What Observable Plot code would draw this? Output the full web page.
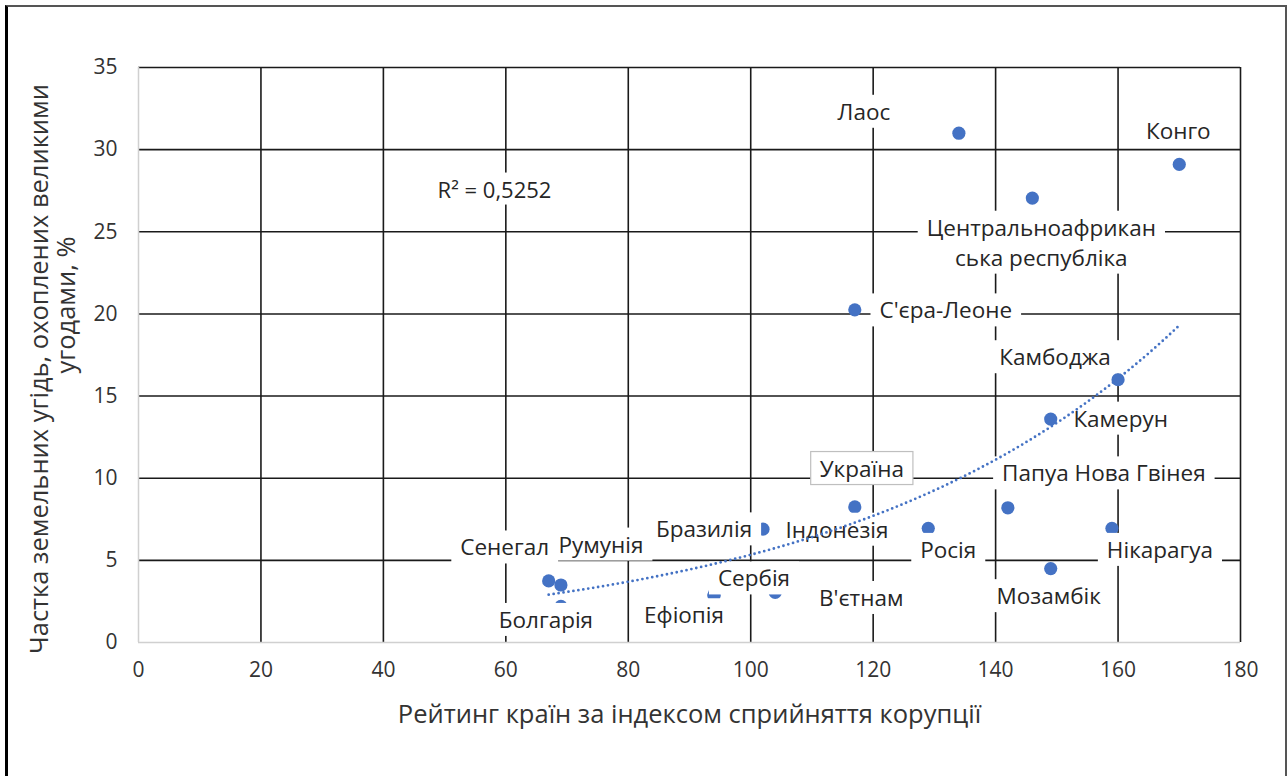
<!DOCTYPE html>
<html>
<head>
<meta charset="utf-8">
<script src="https://cdn.jsdelivr.net/npm/d3@7"></script>
<script src="https://cdn.jsdelivr.net/npm/@observablehq/plot@0.6"></script>
<style>
  html, body { margin: 0; padding: 0; background: #fff; }
  #wrap { position: relative; width: 1287px; height: 776px; overflow: hidden; }
  #frame { position: absolute; left: 5px; top: 5px; width: 1282px; height: 771px;
           border-left: 3px solid #000; border-top: 2px solid #555; border-right: 2px solid #555;
           box-sizing: border-box; pointer-events: none; }
</style>
</head>
<body>
<div id="wrap"><div id="chart"></div><div id="frame"></div></div>
<script>
// ---- data ----
const countries = ["Лаос", "Конго", "Центральноафрикан\nська республіка", "С'єра-Леоне", "Камбоджа", "Камерун",
  "Україна", "Папуа Нова Гвінея", "Індонезія", "Бразилія", "Росія", "Нікарагуа", "Мозамбік",
  "Сенегал", "Румунія", "Болгарія", "Ефіопія", "Сербія", "В'єтнам"];
const rank  = [134, 170, 146, 117, 160, 149, 117, 142, 102, 94, 129, 159, 149, 67, 69, 69, 94, 94, 104];
const share = [31.0, 29.1, 27.05, 20.25, 16.0, 13.6, 8.25, 8.2, 6.9, 6.8, 6.95, 6.95, 4.5, 3.75, 3.5, 2.2, 2.85, 2.9, 3.05];
const xTicks = [0, 20, 40, 60, 80, 100, 120, 140, 160, 180];
const yTicks = [0, 5, 10, 15, 20, 25, 30, 35];
const r2Label = "R² = 0,5252";
const xTitle = "Рейтинг країн за індексом сприйняття корупції";
const yTitleLines = ["Частка земельних угідь, охоплених великими", "угодами, %"];

// label placement (pixel offsets from each point)
const labelDx = [-95, -1, 9, 91, -63, 70, 7, 96, 74, -10, 20, 48, -2, -44, 40, -15, -30, 40, 86];
const labelDy = [-20, -32, 46, 2, -21, 1, -37, -33, 2, 0, 23, 23, 29, -32, -39, 15, 21, -15, 7];

const points = countries.map((c, i) => ({ name: c, x: rank[i], y: share[i], i }));

// exponential trendline (least squares on ln y), as Excel does
const lx = points.map(p => p.x), ly = points.map(p => Math.log(p.y));
const mx = d3.mean(lx), my = d3.mean(ly);
const b = d3.sum(lx.map((x, k) => (x - mx) * (ly[k] - my))) / d3.sum(lx.map(x => (x - mx) ** 2));
const a = Math.exp(my - b * mx);
const [x0, x1] = d3.extent(lx);
const trend = d3.range(0, 101).map(k => { const x = x0 + (x1 - x0) * k / 100; return { x, y: a * Math.exp(b * x) }; });

const blue = "#4472C4";
const txt = "#262626";
const axisTxt = "#333";
const FONT = "'Open Sans', 'Noto Sans', sans-serif";

const labelMarks = points.map(p => Plot.text([p], {
  x: "x", y: "y", text: "name", dx: labelDx[p.i], dy: labelDy[p.i] - 3,
  fontSize: 22.5, fill: txt, lineHeight: 1.33
}));

const chart = Plot.plot({
  width: 1287, height: 776,
  marginLeft: 138, marginRight: 47, marginTop: 67, marginBottom: 134,
  x: { domain: [0, 180], axis: null },
  y: { domain: [0, 35], axis: null },
  style: { fontFamily: FONT, background: "transparent" },
  marks: [
    Plot.ruleX(xTicks.filter(d => d > 0), { stroke: "#1a1a1a", strokeWidth: 1.6 }),
    Plot.ruleY(yTicks.filter(d => d > 0), { stroke: "#1a1a1a", strokeWidth: 1.6 }),
    Plot.ruleX([0], { stroke: "#d0d0d0", strokeWidth: 1.5 }),
    Plot.ruleY([0], { stroke: "#d0d0d0", strokeWidth: 1.5 }),
    Plot.text(xTicks, { x: d => d, frameAnchor: "bottom", lineAnchor: "middle", textAnchor: "middle", dy: 28, fontSize: 21, fill: axisTxt }),
    Plot.text(yTicks, { y: d => d, frameAnchor: "left", lineAnchor: "middle", textAnchor: "end", dx: -21, fontSize: 21, fill: axisTxt }),
    Plot.text([xTitle], { frameAnchor: "bottom", lineAnchor: "middle", textAnchor: "middle", dy: 72, fontSize: 25.5, fill: axisTxt }),
    Plot.text([yTitleLines[0]], { frameAnchor: "left", lineAnchor: "middle", textAnchor: "middle", rotate: -90, dx: -99, dy: 14, fontSize: 25.5, fill: axisTxt }),
    Plot.text([yTitleLines[1]], { frameAnchor: "left", lineAnchor: "middle", textAnchor: "middle", rotate: -90, dx: -72, dy: -50, fontSize: 25.5, fill: axisTxt }),
    Plot.dot(points, { x: "x", y: "y", r: 6.6, fill: blue, stroke: "none" }),
    ...labelMarks,
    Plot.line(trend, { x: "x", y: "y", stroke: blue, strokeWidth: 2.8, strokeDasharray: "0 5", strokeLinecap: "round", curve: "linear" }),
    Plot.text([r2Label], { frameAnchor: "top-left", lineAnchor: "middle", textAnchor: "middle", dx: 356, dy: 123, fontSize: 22, fill: txt })
  ]
});

document.getElementById("chart").appendChild(chart);

// white boxes behind data labels (like Excel's filled data labels)
const boxed = new Set(countries.map(s => s.replace("\n", "")).concat([r2Label]));
chart.querySelectorAll("text").forEach(t => {
  const s = t.textContent;
  if (!boxed.has(s)) return;
  const bb = t.getBBox();
  const rect = document.createElementNS("http://www.w3.org/2000/svg", "rect");
  rect.setAttribute("x", bb.x - 9);
  rect.setAttribute("y", bb.y - 1);
  rect.setAttribute("width", bb.width + 18);
  rect.setAttribute("height", bb.height + 2);
  rect.setAttribute("fill", "#fff");
  if (s === "Україна") { rect.setAttribute("stroke", "#bfbfbf"); rect.setAttribute("stroke-width", "1.2"); }
  if (t.getAttribute("transform")) rect.setAttribute("transform", t.getAttribute("transform"));
  t.parentNode.insertBefore(rect, t);
});
</script>
</body>
</html>
